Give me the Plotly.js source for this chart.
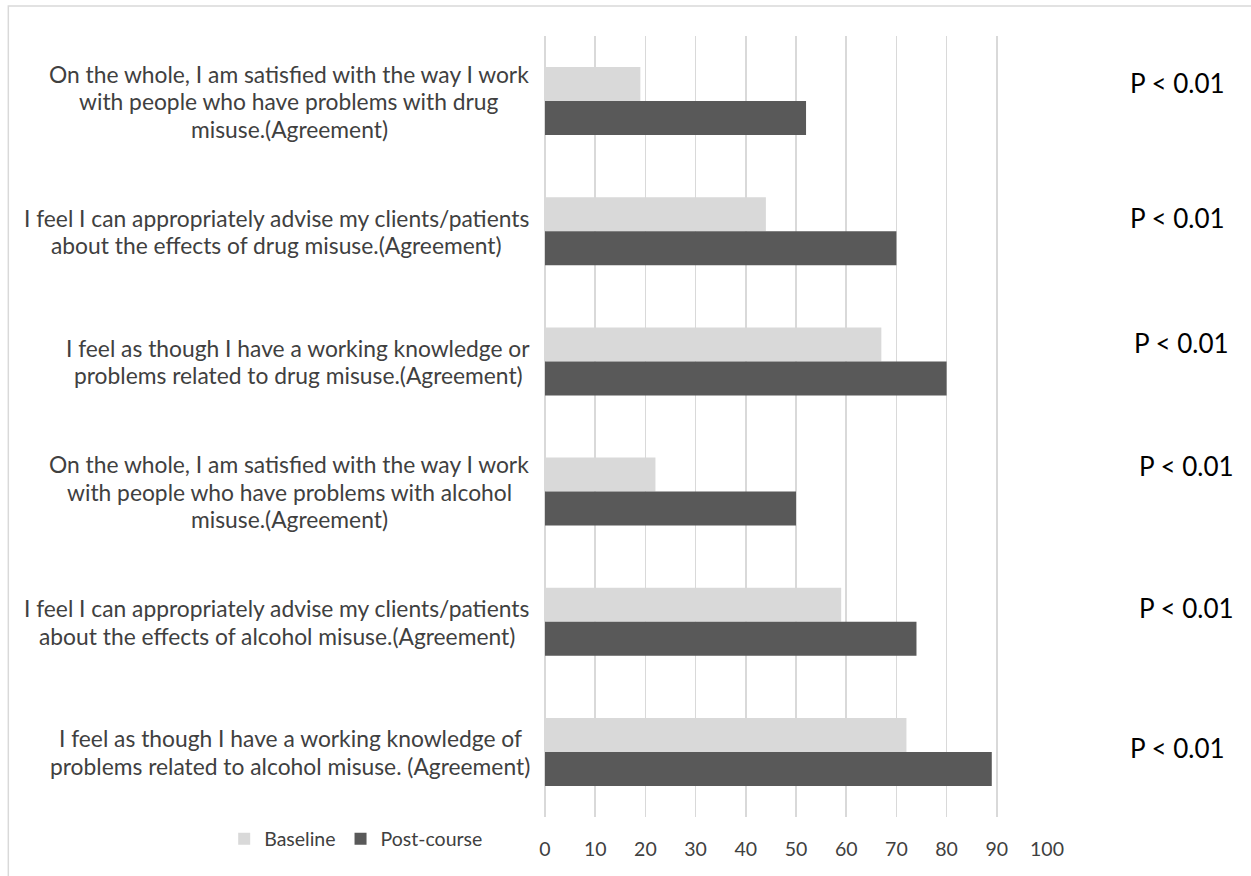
<!DOCTYPE html>
<html>
<head>
<meta charset="utf-8">
<script src="https://cdn.plot.ly/plotly-3.0.1.min.js"></script>
<style>
  html, body { margin: 0; padding: 0; background: #ffffff; }
  #chart { width: 1251px; height: 876px; }
</style>
</head>
<body>
<div id="chart"></div>
<script>
// ---- data (top to bottom) ----
var categories = [
  "On the whole, I am satisfied with the way I work<br>with people who have problems with drug<br>misuse.(Agreement)",
  "I feel I can appropriately advise my clients/patients<br>about the effects of drug misuse.(Agreement)",
  "I feel as though I have a working knowledge or<br>problems related to drug misuse.(Agreement)",
  "On the whole, I am satisfied with the way I work<br>with people who have problems with alcohol<br>misuse.(Agreement)",
  "I feel I can appropriately advise my clients/patients<br>about the effects of alcohol misuse.(Agreement)",
  "I feel as though I have a working knowledge of<br>problems related to alcohol misuse. (Agreement)"
];
var baseline = [19, 44, 67, 22, 59, 72];
var postCourse = [52, 70, 80, 50, 74, 89];
var pLabels = ["P < 0.01", "P < 0.01", "P < 0.01", "P < 0.01", "P < 0.01", "P < 0.01"];
var seriesNames = ["Baseline", "Post-course"];
var xTicks = [0, 10, 20, 30, 40, 50, 60, 70, 80, 90, 100];

// ---- style ----
var FONT = "Lato, 'Open Sans', sans-serif";
var TXT = "#404040";
var LABEL_SIZE = 22.8, LINE_GAP = 27.5, LABEL_RIGHT = 530;
var pShift = [18, 13, 18, 26, 14, 4];           // vertical nudge of the P labels (px)
var pX = [1128, 1128, 1132, 1137, 1137, 1128];  // left edge of P labels (px)
var L = 545, R = 1047.3, T = 36, B = 817;
function px2x(p) { return (p - L) / (R - L); }
function px2y(p) { return (B - p) / (B - T); }

var ctx = document.createElement("canvas").getContext("2d");
ctx.font = LABEL_SIZE + "px Lato";
function textW(s) { return ctx.measureText(s).width; }

var traces = [
  { type: "bar", orientation: "h", name: seriesNames[0], y: categories, x: baseline,
    marker: { color: "#d9d9d9" }, hoverinfo: "x" },
  { type: "bar", orientation: "h", name: seriesNames[1], y: categories, x: postCourse,
    marker: { color: "#595959" }, hoverinfo: "x" }
];

var annotations = [];
categories.forEach(function (c, i) {
  var lines = c.split("<br>");
  var maxW = Math.max.apply(null, lines.map(textW));
  var cx = LABEL_RIGHT - maxW / 2;
  lines.forEach(function (ln, k) {
    annotations.push({
      xref: "paper", yref: "y", x: px2x(cx), y: c, text: ln,
      yshift: ((lines.length - 1) / 2 - k) * LINE_GAP,
      xanchor: "center", yanchor: "middle", showarrow: false, borderpad: 0,
      font: { family: FONT, size: LABEL_SIZE, color: TXT }
    });
  });
  annotations.push({
    xref: "paper", yref: "y", x: px2x(pX[i]), y: c, yshift: pShift[i], text: pLabels[i],
    xanchor: "left", yanchor: "middle", showarrow: false,
    font: { family: FONT, size: 26, color: "#000000" }
  });
});

var layout = {
  width: 1251, height: 876,
  paper_bgcolor: "#ffffff", plot_bgcolor: "#ffffff",
  margin: { l: L, r: 1251 - R, t: T, b: 876 - B, pad: 0 },
  barmode: "group", bargap: 0.478, bargroupgap: 0,
  font: { family: FONT, color: TXT },
  showlegend: true,
  legend: {
    orientation: "h", x: px2x(224), xanchor: "left", y: px2y(839), yanchor: "middle",
    font: { family: FONT, size: 19.5, color: TXT }, traceorder: "normal",
    bgcolor: "rgba(0,0,0,0)", itemwidth: 30
  },
  xaxis: {
    range: [0, 100], tickvals: xTicks, ticktext: xTicks.map(String),
    showgrid: true, gridcolor: "#d9d9d9", gridwidth: 1.6,
    zeroline: true, zerolinecolor: "#d9d9d9", zerolinewidth: 1.6,
    showline: false, ticks: "", ticklabelstandoff: 18,
    tickfont: { family: FONT, size: 19.5, color: TXT }, fixedrange: true
  },
  yaxis: {
    type: "category", autorange: "reversed", categoryorder: "array", categoryarray: categories,
    showticklabels: false, showgrid: false, zeroline: false, showline: false, ticks: "",
    fixedrange: true
  },
  annotations: annotations,
  shapes: [{
    type: "rect", xref: "paper", yref: "paper",
    x0: px2x(8), x1: px2x(1300), y0: px2y(900), y1: px2y(6),
    line: { color: "#d9d9d9", width: 1.5 }, fillcolor: "rgba(0,0,0,0)", layer: "below"
  }]
};

Plotly.newPlot("chart", traces, layout, { displayModeBar: false, staticPlot: true });
</script>
</body>
</html>
